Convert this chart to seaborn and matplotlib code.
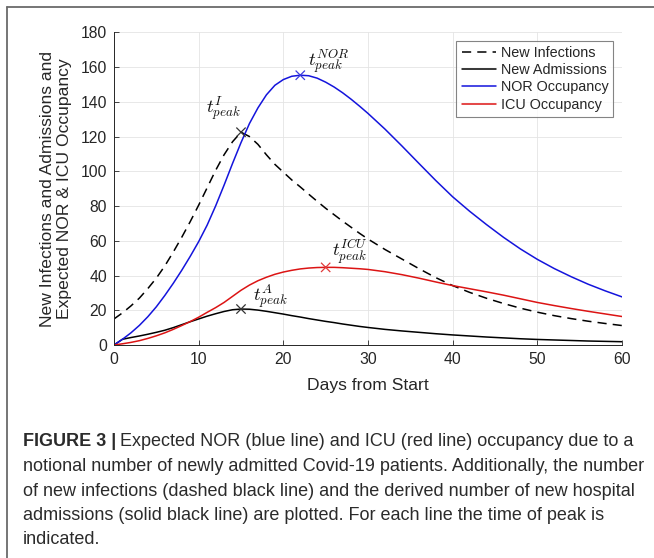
import numpy as np
import pandas as pd
import matplotlib
matplotlib.use("Agg")
import matplotlib.pyplot as plt
import seaborn as sns

# ---------------------------------------------------------------------------
# Data
# ---------------------------------------------------------------------------
days = list(range(0, 31)) + list(range(32, 61, 2))

new_infections = [
    15, 18.5, 22.5, 27, 32.5, 38.5, 45.5, 53.5, 62, 71,
    80.5, 90.5, 100.5, 109.5, 117, 122.5, 120, 115.5, 109.5, 104,
    99.5, 95, 91, 86.8, 82.7, 78.7, 75, 71.3, 67.8, 64.3, 61,
    55, 49.5, 44, 38.8, 34.2, 30.3, 26.9, 23.9, 21.2, 18.9,
    16.9, 15.2, 13.7, 12.4, 11.2,
]
new_admissions = [
    0, 3.3, 4.3, 5.2, 6.2, 7.3, 8.5, 10, 11.7, 13.4,
    15, 16.6, 18, 19.3, 20.3, 20.7, 20.6, 20.1, 19.4, 18.6,
    17.8, 16.9, 16.1, 15.2, 14.4, 13.6, 12.9, 12.1, 11.4, 10.7, 10.1,
    9, 8.1, 7.3, 6.5, 5.8, 5.2, 4.6, 4.1, 3.6, 3.2,
    2.9, 2.6, 2.3, 2.1, 1.9,
]
nor_occupancy = [
    0, 3.3, 7, 11.3, 16.3, 22, 28.5, 35.5, 43, 51,
    59.5, 69, 80, 92, 104.5, 116.5, 127.5, 136.5, 144, 149.5,
    152.8, 154.7, 155.3, 155, 153.6, 151.3, 148.5, 145.2, 141.5, 137.5, 133.3,
    124.3, 114.6, 104.6, 94.7, 85.3, 77, 69.3, 62, 55.3, 49.3,
    44, 39.3, 35, 31.2, 27.7,
]
icu_occupancy = [
    0, 0.7, 1.5, 2.5, 3.8, 5.3, 7, 9, 11.2, 13.5,
    16, 18.8, 21.5, 24.5, 28, 31.5, 34.5, 37, 39, 40.7,
    42, 43, 43.8, 44.3, 44.6, 44.7, 44.7, 44.5, 44.2, 43.9, 43.5,
    42.2, 40.5, 38.5, 36.3, 34.2, 32.4, 30.6, 28.7, 26.6, 24.5,
    22.7, 21, 19.4, 17.9, 16.4,
]

series_names = ["New Infections", "New Admissions", "NOR Occupancy", "ICU Occupancy"]

peak_names = ["I", "A", "NOR", "ICU"]
peak_days = [15, 15, 22, 25]
peak_values = [122.5, 20.7, 155.3, 44.7]

caption_lines = [
    "Expected NOR (blue line) and ICU (red line) occupancy due to a",
    "notional number of newly admitted Covid-19 patients. Additionally, the number",
    "of new infections (dashed black line) and the derived number of new hospital",
    "admissions (solid black line) are plotted. For each line the time of peak is",
    "indicated.",
]

# ---------------------------------------------------------------------------
# Style
# ---------------------------------------------------------------------------
sns.set_theme(style="whitegrid")
plt.rcParams["font.family"] = ["Liberation Sans", "DejaVu Sans"]
plt.rcParams["mathtext.fontset"] = "cm"

colors = {
    "New Infections": "#000000",
    "New Admissions": "#000000",
    "NOR Occupancy": "#1414dc",
    "ICU Occupancy": "#dc1414",
}
peak_colors = {"I": "#333333", "A": "#333333", "NOR": "#3a3ae0", "ICU": "#e03a3a"}
dash_map = {
    "New Infections": (6, 4),
    "New Admissions": "",
    "NOR Occupancy": "",
    "ICU Occupancy": "",
}
text_color = "#262626"

df = pd.DataFrame({
    "Day": days * 4,
    "Value": new_infections + new_admissions + nor_occupancy + icu_occupancy,
    "Series": [n for n in series_names for _ in days],
})
peaks = pd.DataFrame({"Peak": peak_names, "Day": peak_days, "Value": peak_values})

fig = plt.figure(figsize=(6.54, 5.58), dpi=100)
ax = fig.add_axes([0.1743, 0.3817, 0.7768, 0.5604])

sns.lineplot(
    data=df, x="Day", y="Value", hue="Series", style="Series",
    hue_order=series_names, style_order=series_names,
    palette=colors, dashes=dash_map, linewidth=1.1, ax=ax,
)
sns.scatterplot(
    data=peaks, x="Day", y="Value", hue="Peak", palette=peak_colors,
    marker="x", s=45, linewidth=0.9, legend=False, ax=ax, zorder=5,
)

# peak annotations (offsets in pixels from the peak marker)
label_offsets = {"I": (-35, 24), "A": (12, 12), "NOR": (8, 14), "ICU": (6, 15)}
for name, d, v in zip(peak_names, peak_days, peak_values):
    ax.annotate(
        rf"$t^{{{name}}}_{{peak}}$", xy=(d, v), xytext=label_offsets[name],
        textcoords="offset pixels", ha="left", va="center",
        fontsize=13.5, color="#111111",
    )

ax.set_xlim(0, 60)
ax.set_ylim(0, 180)
ax.set_xticks(range(0, 61, 10))
ax.set_yticks(range(0, 181, 20))
ax.grid(True, color="#e4e4e4", linewidth=0.6)
ax.set_facecolor("white")
for side in ("top", "right"):
    ax.spines[side].set_visible(False)
for side in ("left", "bottom"):
    ax.spines[side].set_color("#262626")
    ax.spines[side].set_linewidth(0.7)
ax.tick_params(axis="both", direction="in", length=3.5, width=0.6,
               colors=text_color, labelsize=11.3, pad=5,
               left=True, bottom=True)

ax.set_xlabel("Days from Start", fontsize=12.6, color=text_color, labelpad=8)
ax.set_ylabel("New Infections and Admissions and\nExpected NOR & ICU Occupancy",
              fontsize=12.6, color=text_color, labelpad=6, linespacing=1.2)

handles, labels = ax.get_legend_handles_labels()
leg = ax.legend(
    handles, labels, loc="upper right", fontsize=10.4, frameon=True,
    fancybox=False, borderaxespad=0.6, borderpad=0.35, labelspacing=0.22,
    handlelength=2.4, handletextpad=0.3,
)
leg.get_frame().set_edgecolor("#666666")
leg.get_frame().set_linewidth(0.8)
for t in leg.get_texts():
    t.set_color(text_color)

# frame around the figure panel (left and top edges visible in the crop)
fig.add_artist(plt.Line2D([0.0112, 0.0112], [0.0, 0.9875], transform=fig.transFigure,
                          color="#6a6a6a", linewidth=1.3))
fig.add_artist(plt.Line2D([0.0112, 1.0], [0.9875, 0.9875], transform=fig.transFigure,
                          color="#6a6a6a", linewidth=1.3))

# caption
cap_x = 0.0347
cap_size = 13.0
cap_color = "#2b2b2b"
line_y = [442, 466.5, 491, 515.5, 540]
bold = fig.text(cap_x, 1 - line_y[0] / 558, "FIGURE 3 |", fontsize=cap_size,
                fontweight="bold", color=cap_color, va="center", ha="left")
fig.canvas.draw()
bb = bold.get_window_extent(renderer=fig.canvas.get_renderer())
x_after = (bb.x1 + 4) / fig.bbox.width
for i, (line, y) in enumerate(zip(caption_lines, line_y)):
    fig.text(x_after if i == 0 else cap_x, 1 - y / 558, line, fontsize=cap_size,
             color=cap_color, va="center", ha="left")

fig.savefig("out.png", dpi=100, facecolor="white")
